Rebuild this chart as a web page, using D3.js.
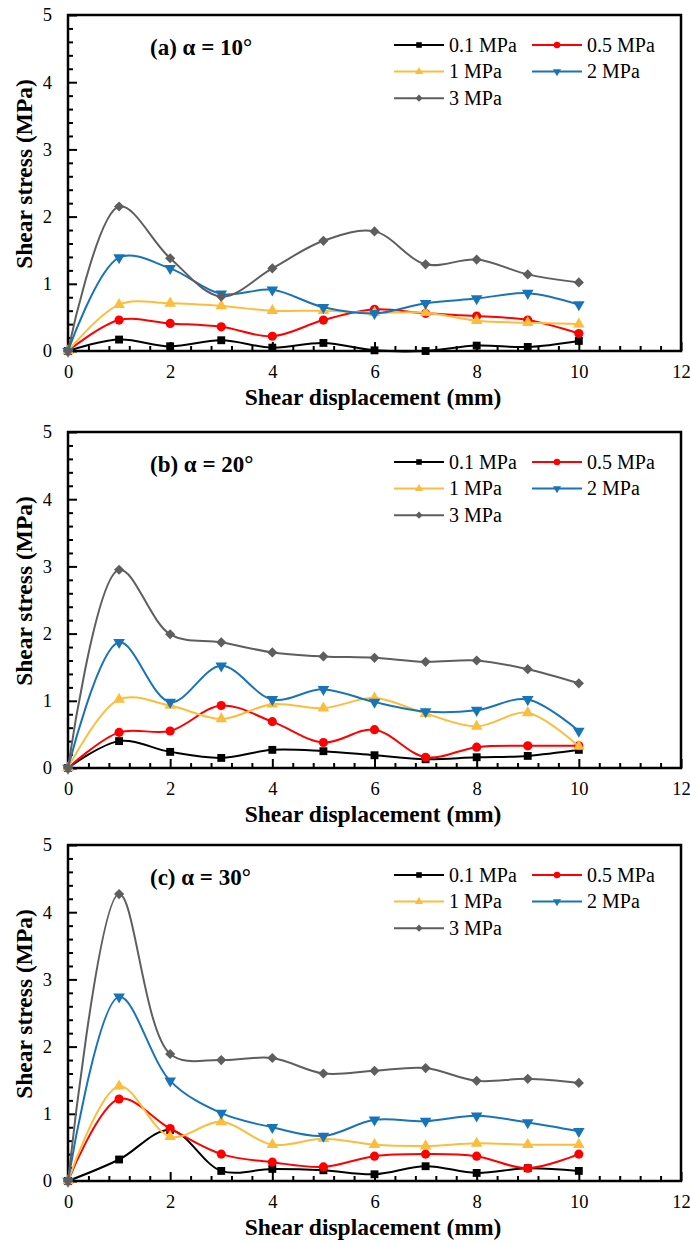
<!DOCTYPE html>
<html>
<head>
<meta charset="utf-8">
<script src="https://cdn.jsdelivr.net/npm/d3@7"></script>
<style>
  body { margin: 0; background: #fff; }
  svg text { font-family: "Liberation Serif", "Times New Roman", serif; fill: #000; }
</style>
</head>
<body>
<svg id="chart" width="690" height="1244"></svg>
<script>
// shear displacement (mm), shared by all panels
var displacement = [0, 1, 2, 3, 4, 5, 6, 7, 8, 9, 10];
var seriesLabels = ["0.1 MPa", "0.5 MPa", "1 MPa", "2 MPa", "3 MPa"];
var panelTitles = ["(a) \u03b1 = 10\u00b0", "(b) \u03b1 = 20\u00b0", "(c) \u03b1 = 30\u00b0"];
var xTicks = [0, 2, 4, 6, 8, 10, 12];
var yTicks = [0, 1, 2, 3, 4, 5];

// shear stress (MPa), one row per normal stress
var stressAlpha10 = [
  [0, 0.17, 0.07, 0.16, 0.05, 0.12, 0.01, 0.00, 0.08, 0.06, 0.15],
  [0, 0.46, 0.41, 0.36, 0.22, 0.46, 0.62, 0.56, 0.52, 0.46, 0.26],
  [0, 0.69, 0.71, 0.67, 0.60, 0.60, 0.57, 0.57, 0.45, 0.42, 0.40],
  [0, 1.39, 1.23, 0.85, 0.91, 0.65, 0.56, 0.71, 0.78, 0.86, 0.69],
  [0, 2.15, 1.38, 0.81, 1.23, 1.64, 1.78, 1.29, 1.36, 1.14, 1.02]
];
var stressAlpha20 = [
  [0, 0.40, 0.24, 0.15, 0.27, 0.25, 0.19, 0.13, 0.16, 0.18, 0.27],
  [0, 0.53, 0.55, 0.93, 0.69, 0.38, 0.57, 0.16, 0.31, 0.33, 0.33],
  [0, 1.02, 0.93, 0.73, 0.95, 0.89, 1.04, 0.81, 0.62, 0.82, 0.32],
  [0, 1.87, 0.98, 1.52, 1.02, 1.17, 0.98, 0.84, 0.86, 1.02, 0.55],
  [0, 2.95, 1.99, 1.87, 1.72, 1.66, 1.64, 1.58, 1.60, 1.47, 1.26]
];
var stressAlpha30 = [
  [0, 0.32, 0.76, 0.15, 0.18, 0.16, 0.10, 0.22, 0.12, 0.19, 0.15],
  [0, 1.22, 0.78, 0.40, 0.28, 0.21, 0.37, 0.40, 0.37, 0.19, 0.40],
  [0, 1.41, 0.66, 0.88, 0.54, 0.63, 0.54, 0.52, 0.56, 0.54, 0.54],
  [0, 2.74, 1.49, 1.01, 0.80, 0.67, 0.91, 0.89, 0.97, 0.87, 0.74],
  [0, 4.27, 1.89, 1.80, 1.83, 1.60, 1.64, 1.68, 1.49, 1.52, 1.46]
];
var panelData = [stressAlpha10, stressAlpha20, stressAlpha30];

var colors = ["#000000", "#ff0000", "#fdbd3c", "#1874b8", "#5e5e5e"];
var symbols = [
  {type: d3.symbolSquare, size: 62, rot: 0},
  {type: d3.symbolCircle, size: 66, rot: 0},
  {type: d3.symbolTriangle, size: 58, rot: 0},
  {type: d3.symbolTriangle, size: 58, rot: 180},
  {type: d3.symbolSquare, size: 52, rot: 45}
];

var serif = "'Liberation Serif', 'Times New Roman', serif";
var svg = d3.select("#chart");
var left = 68, right = 681, plotH = 336;
var panelTops = [15, 432, 845];

var x = d3.scaleLinear().domain([0, 12]).range([left, right]);

panelTops.forEach(function(top, pi) {
  var bottom = top + plotH;
  var y = d3.scaleLinear().domain([0, 5]).range([bottom, top]);
  var g = svg.append("g");

  // minor ticks
  g.append("g")
    .attr("transform", "translate(0," + bottom + ")")
    .call(d3.axisBottom(x).tickValues(d3.range(0.4, 12, 0.4).filter(function(v) {
        return Math.abs(v / 2 - Math.round(v / 2)) > 0.01; }))
      .tickSize(-5).tickFormat(""))
    .call(function(a) { a.select(".domain").remove(); });
  g.append("g")
    .attr("transform", "translate(" + left + ",0)")
    .call(d3.axisLeft(y).tickValues(d3.range(0.2, 5, 0.2).filter(function(v) {
        return Math.abs(v - Math.round(v)) > 0.01; }))
      .tickSize(-5).tickFormat(""))
    .call(function(a) { a.select(".domain").remove(); });

  // major ticks + labels
  var xa = g.append("g")
    .attr("transform", "translate(0," + bottom + ")")
    .call(d3.axisBottom(x).tickValues(xTicks).tickFormat(d3.format("d"))
      .tickSize(-9).tickPadding(18));
  xa.select(".domain").remove();
  xa.attr("font-family", serif).attr("font-size", 18.5);
  xa.selectAll("text").attr("dy", "0.71em")
    .attr("transform", "translate(0,-4)");

  var ya = g.append("g")
    .attr("transform", "translate(" + left + ",0)")
    .call(d3.axisLeft(y).tickValues(yTicks).tickFormat(d3.format("d"))
      .tickSize(-9).tickPadding(16));
  ya.select(".domain").remove();
  ya.attr("font-family", serif).attr("font-size", 18.5);

  g.selectAll(".tick line").attr("stroke", "#000").attr("stroke-width", 2);
  g.selectAll(".tick text").attr("fill", "#000");

  // frame
  g.append("rect")
    .attr("x", left).attr("y", top)
    .attr("width", right - left).attr("height", plotH)
    .attr("fill", "none").attr("stroke", "#000").attr("stroke-width", 2.5);

  // curves
  var line = d3.line()
    .x(function(d, i) { return x(displacement[i]); })
    .y(function(d) { return y(d); })
    .curve(d3.curveCatmullRom.alpha(0.5));

  panelData[pi].forEach(function(vals, si) {
    g.append("path")
      .attr("d", line(vals))
      .attr("fill", "none")
      .attr("stroke", colors[si])
      .attr("stroke-width", 2);
    var sym = d3.symbol().type(symbols[si].type).size(symbols[si].size);
    g.selectAll(null).data(vals).enter().append("path")
      .attr("d", sym)
      .attr("transform", function(d, i) {
        return "translate(" + x(displacement[i]) + "," + y(d) + ") rotate(" + symbols[si].rot + ")";
      })
      .attr("fill", colors[si]);
  });

  // panel title
  g.append("text")
    .attr("x", 150).attr("y", top + 40)
    .attr("font-size", 23).attr("font-weight", "bold")
    .text(panelTitles[pi]);

  // legend
  seriesLabels.forEach(function(lab, si) {
    var col = si % 2, row = Math.floor(si / 2);
    var lx = col === 0 ? 394 : 532;
    var ly = top + 30 + row * 26.6;
    g.append("line")
      .attr("x1", lx).attr("x2", lx + 50)
      .attr("y1", ly).attr("y2", ly)
      .attr("stroke", colors[si]).attr("stroke-width", 2);
    g.append("path")
      .attr("d", d3.symbol().type(symbols[si].type).size(symbols[si].size * 0.5))
      .attr("transform", "translate(" + (lx + 25) + "," + ly + ") rotate(" + symbols[si].rot + ")")
      .attr("fill", colors[si]);
    g.append("text")
      .attr("x", lx + 55).attr("y", ly + 6.5)
      .attr("font-size", 20)
      .text(lab);
  });

  // axis titles
  g.append("text")
    .attr("x", 373).attr("y", bottom + 54)
    .attr("text-anchor", "middle")
    .attr("font-size", 23.5).attr("font-weight", "bold")
    .text("Shear displacement (mm)");
  g.append("text")
    .attr("transform", "translate(32," + (top + plotH / 2 - 9) + ") rotate(-90)")
    .attr("text-anchor", "middle")
    .attr("font-size", 23.5).attr("font-weight", "bold")
    .text("Shear stress (MPa)");
});
</script>
</body>
</html>
